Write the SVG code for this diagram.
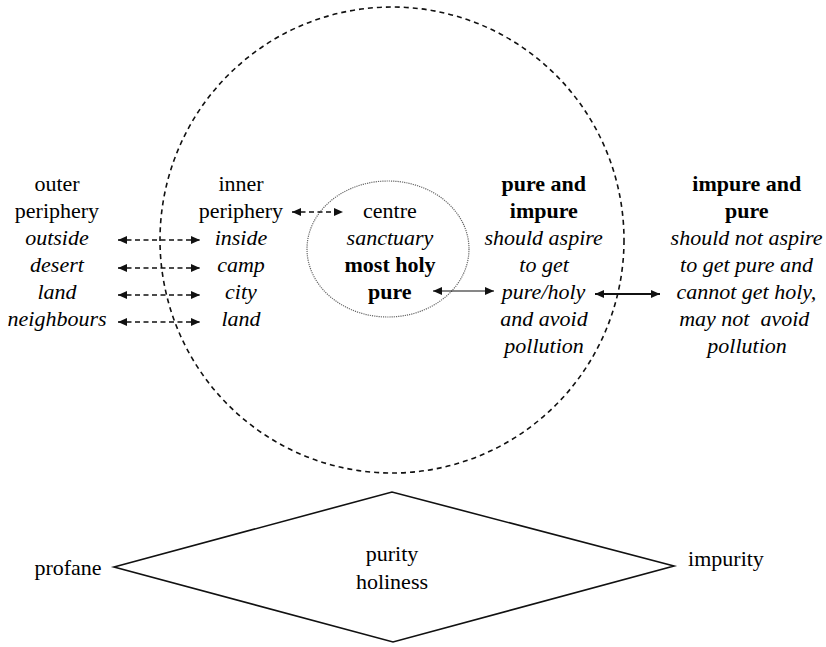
<svg xmlns="http://www.w3.org/2000/svg" width="826" height="647" viewBox="0 0 826 647" font-family="Liberation Serif">
<defs>
<marker id="ah" markerUnits="userSpaceOnUse" markerWidth="10" markerHeight="10" refX="9" refY="5" orient="auto-start-reverse" viewBox="0 0 10 10">
<path d="M0,1 L9,5 L0,9 z" fill="#111"/>
</marker>
</defs>
<rect width="826" height="647" fill="#fff"/>
<g id="outer-circle"><ellipse cx="392" cy="240" rx="232" ry="233" fill="none" stroke="#111" stroke-width="1.6" stroke-dasharray="5 4"/></g>
<g id="inner-circle"><ellipse cx="388" cy="249" rx="81" ry="68" fill="none" stroke="#666" stroke-width="1.2" stroke-dasharray="1.2 1"/></g>
<g id="outer-periphery">
<text x="34.4" y="191" style="font-family:'Liberation Serif',serif;font-size:22px">outer</text>
<text x="14.8" y="218" style="font-family:'Liberation Serif',serif;font-size:22px">periphery</text>
<text x="25.2" y="245" style="font-family:'Liberation Serif',serif;font-size:22px;font-style:italic">outside</text>
<text x="30.1" y="272" style="font-family:'Liberation Serif',serif;font-size:22px;font-style:italic">desert</text>
<text x="37.4" y="299" style="font-family:'Liberation Serif',serif;font-size:22px;font-style:italic">land</text>
<text x="7.5" y="326" style="font-family:'Liberation Serif',serif;font-size:22px;font-style:italic">neighbours</text>
</g>
<g id="inner-periphery">
<text x="218.4" y="191" style="font-family:'Liberation Serif',serif;font-size:22px">inner</text>
<text x="198.8" y="218" style="font-family:'Liberation Serif',serif;font-size:22px">periphery</text>
<text x="214.7" y="245" style="font-family:'Liberation Serif',serif;font-size:22px;font-style:italic">inside</text>
<text x="217.2" y="272" style="font-family:'Liberation Serif',serif;font-size:22px;font-style:italic">camp</text>
<text x="225.1" y="299" style="font-family:'Liberation Serif',serif;font-size:22px;font-style:italic">city</text>
<text x="221.4" y="326" style="font-family:'Liberation Serif',serif;font-size:22px;font-style:italic">land</text>
</g>
<g id="centre">
<text x="363.1" y="218" style="font-family:'Liberation Serif',serif;font-size:22px">centre</text>
<text x="346.6" y="245" style="font-family:'Liberation Serif',serif;font-size:22px;font-style:italic">sanctuary</text>
<text x="344.5" y="272" style="font-family:'Liberation Serif',serif;font-size:22px;font-weight:bold">most holy</text>
<text x="368" y="299" style="font-family:'Liberation Serif',serif;font-size:22px;font-weight:bold">pure</text>
</g>
<g id="pure-and-impure">
<text x="501.5" y="191" style="font-family:'Liberation Serif',serif;font-size:22px;font-weight:bold">pure and</text>
<text x="509.8" y="218" style="font-family:'Liberation Serif',serif;font-size:22px;font-weight:bold">impure</text>
<text x="484.4" y="245" style="font-family:'Liberation Serif',serif;font-size:22px;font-style:italic">should aspire</text>
<text x="519.3" y="272" style="font-family:'Liberation Serif',serif;font-size:22px;font-style:italic">to get</text>
<text x="501.8" y="299" style="font-family:'Liberation Serif',serif;font-size:22px;font-style:italic">pure/holy</text>
<text x="500.3" y="326" style="font-family:'Liberation Serif',serif;font-size:22px;font-style:italic">and avoid</text>
<text x="504.3" y="353" style="font-family:'Liberation Serif',serif;font-size:22px;font-style:italic">pollution</text>
</g>
<g id="impure-and-pure">
<text x="692.3" y="191" style="font-family:'Liberation Serif',serif;font-size:22px;font-weight:bold">impure and</text>
<text x="725" y="218" style="font-family:'Liberation Serif',serif;font-size:22px;font-weight:bold">pure</text>
<text x="670.6" y="245" style="font-family:'Liberation Serif',serif;font-size:22px;font-style:italic">should not aspire</text>
<text x="680.1" y="272" style="font-family:'Liberation Serif',serif;font-size:22px;font-style:italic">to get pure and</text>
<text x="676.4" y="299" style="font-family:'Liberation Serif',serif;font-size:22px;font-style:italic">cannot get holy,</text>
<text x="679.2" y="326" xml:space="preserve" style="font-family:'Liberation Serif',serif;font-size:22px;font-style:italic">may not  avoid</text>
<text x="707.3" y="353" style="font-family:'Liberation Serif',serif;font-size:22px;font-style:italic">pollution</text>
</g>
<g id="diamond">
<polygon points="114,567 392,492 674,566 393,642" fill="none" stroke="#111" stroke-width="1.6"/>
<text x="365.7" y="561" style="font-family:'Liberation Serif',serif;font-size:22px">purity</text>
<text x="355.9" y="589" style="font-family:'Liberation Serif',serif;font-size:22px">holiness</text>
</g>
<g id="profane"><text x="34.4" y="575" style="font-family:'Liberation Serif',serif;font-size:22px">profane</text></g>
<g id="impurity"><text x="688.1" y="566" style="font-family:'Liberation Serif',serif;font-size:22px">impurity</text></g>
<g id="connectors" fill="none" stroke="#111">
<g stroke-width="1.6" stroke-dasharray="5 3.5">
<line x1="118" y1="240" x2="200" y2="240" marker-start="url(#ah)" marker-end="url(#ah)"/>
<line x1="118" y1="268" x2="200" y2="268" marker-start="url(#ah)" marker-end="url(#ah)"/>
<line x1="118" y1="295" x2="200" y2="295" marker-start="url(#ah)" marker-end="url(#ah)"/>
<line x1="118" y1="322" x2="200" y2="322" marker-start="url(#ah)" marker-end="url(#ah)"/>
<line x1="292" y1="212" x2="343" y2="212" marker-start="url(#ah)" marker-end="url(#ah)"/>
</g>
<line stroke-width="1.1" x1="433" y1="291" x2="494" y2="291" marker-start="url(#ah)" marker-end="url(#ah)"/>
<line stroke-width="2" x1="595" y1="294" x2="660" y2="294" marker-start="url(#ah)" marker-end="url(#ah)"/>
</g>
</svg>
